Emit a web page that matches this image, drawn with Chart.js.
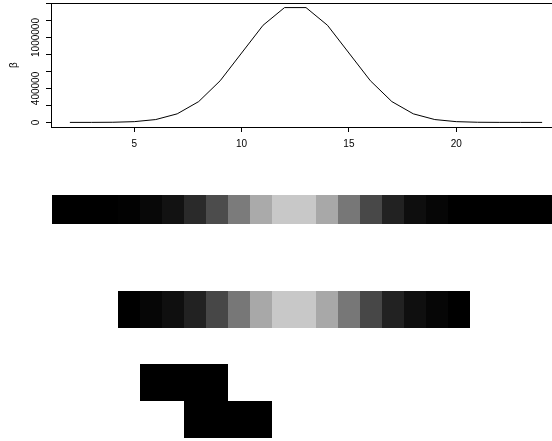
<!DOCTYPE html>
<html><head><meta charset="utf-8">
<script src="https://cdn.jsdelivr.net/npm/chart.js@4"></script>
<style>
html,body{margin:0;padding:0;background:#fff;overflow:hidden;width:552px;height:441px;position:relative;}
canvas{position:absolute;display:block;}
</style></head><body>
<canvas id="k1" width="600" height="160" style="left:0;top:0;width:600px;height:160px"></canvas>
<canvas id="k2" width="506" height="29" style="left:52px;top:195px;width:506px;height:29px"></canvas>
<canvas id="k3" width="352" height="37" style="left:118px;top:291px;width:352px;height:37px"></canvas>
<canvas id="k4" width="132" height="74" style="left:140px;top:364px;width:132px;height:74px"></canvas>
<script>
// ---- data ----
const xValues = [2,3,4,5,6,7,8,9,10,11,12,13,14,15,16,17,18,19,20,21,22,23,24];
const betaValues = [23,253,1771,8855,33649,100947,245157,490314,817190,1144066,1352078,1352078,1144066,817190,490314,245157,100947,33649,8855,1771,253,23,1];
const xTicks = [5,10,15,20];
const yTicks = [0,200000,400000,600000,800000,1000000,1200000,1400000];
const yLabelValues = [0,400000,1000000];
const yLabelTexts = ['0','400000','1000000'];
const yTitle = 'β';
const strip1Levels = [0,0,0,2,8,18,42,76,123,170,200,200,168,119,72,34,14,6,0,0,0,0,0];
const strip2Levels = [0,6,15,34,71,119,168,200,200,168,119,71,34,15,6,0];
const matrixTop = [1,1,0];
const matrixBottom = [0,1,1];

const FONT = '10px "Liberation Sans", Arial, Helvetica, sans-serif';

const decor = {
  id: 'rdecor',
  afterDraw(chart) {
    const {ctx, chartArea: a, scales: {x, y}} = chart;
    ctx.save();
    ctx.strokeStyle = '#000'; ctx.lineWidth = 1;
    ctx.strokeRect(Math.round(a.left) + 0.5, Math.round(a.top) + 0.5,
                   Math.round(a.right - a.left), Math.round(a.bottom - a.top));
    ctx.fillStyle = '#000'; ctx.font = FONT;
    ctx.textAlign = 'center'; ctx.textBaseline = 'alphabetic';
    xTicks.forEach(v => ctx.fillText(String(v), x.getPixelForValue(v), 147));
    yLabelValues.forEach((v, i) => {
      ctx.save();
      ctx.translate(39.2, y.getPixelForValue(v));
      ctx.rotate(-Math.PI / 2);
      ctx.fillText(yLabelTexts[i], 0, 0);
      ctx.restore();
    });
    ctx.save();
    ctx.translate(14, (a.top + a.bottom) / 2);
    ctx.rotate(-Math.PI / 2);
    ctx.textBaseline = 'middle';
    ctx.fillText(yTitle, 0, 0);
    ctx.restore();
    ctx.restore();
  }
};

new Chart(document.getElementById('k1'), {
  type: 'line',
  data: { datasets: [{
    data: xValues.map((v, i) => ({x: v, y: betaValues[i]})),
    borderColor: '#000', borderWidth: 1, pointRadius: 0, tension: 0, fill: false
  }]},
  options: {
    responsive: false, animation: false, devicePixelRatio: 1, events: [],
    layout: { padding: { left: 0, top: 3, right: 39, bottom: 0 } },
    plugins: { legend: { display: false }, tooltip: { enabled: false } },
    scales: {
      x: {
        type: 'linear', min: 1.12, max: 24.88,
        afterBuildTicks: s => { s.ticks = xTicks.map(v => ({value: v})); },
        afterFit: s => { s.height = 33; },
        ticks: { display: false },
        grid: { drawOnChartArea: false, drawTicks: true, tickLength: 5, color: '#000', tickColor: '#000', lineWidth: 1 },
        border: { display: true, color: '#000', width: 1 }
      },
      y: {
        type: 'linear', min: -54083, max: 1406160,
        afterBuildTicks: s => { s.ticks = yTicks.map(v => ({value: v})); },
        afterFit: s => { s.width = 51; },
        ticks: { display: false },
        grid: { drawOnChartArea: false, drawTicks: true, tickLength: 5, color: '#000', tickColor: '#000', lineWidth: 1 },
        border: { display: true, color: '#000', width: 1 }
      }
    }
  },
  plugins: [decor]
});

function grayOf(v) { return `rgb(${v},${v},${v})`; }

function strip(id, levels) {
  new Chart(document.getElementById(id), {
    type: 'bar',
    data: { labels: levels.map((_, i) => String(i)), datasets: [{
      data: levels.map(() => [0, 1]),
      backgroundColor: levels.map(grayOf),
      borderWidth: 0, barPercentage: 1, categoryPercentage: 1, inflateAmount: 0
    }]},
    options: {
      responsive: false, animation: false, devicePixelRatio: 1, events: [],
      layout: { padding: 0 },
      plugins: { legend: { display: false }, tooltip: { enabled: false } },
      scales: { x: { display: false }, y: { display: false, min: 0, max: 1 } }
    }
  });
}
strip('k2', strip1Levels);
strip('k3', strip2Levels);

new Chart(document.getElementById('k4'), {
  type: 'bar',
  data: { labels: matrixTop.map((_, i) => String(i)), datasets: [
    { data: matrixTop.map(v => v ? [1, 2] : null), backgroundColor: '#000', borderWidth: 0,
      barPercentage: 1, categoryPercentage: 1, inflateAmount: 0, grouped: false },
    { data: matrixBottom.map(v => v ? [0, 1] : null), backgroundColor: '#000', borderWidth: 0,
      barPercentage: 1, categoryPercentage: 1, inflateAmount: 0, grouped: false }
  ]},
  options: {
    responsive: false, animation: false, devicePixelRatio: 1, events: [],
    layout: { padding: 0 },
    plugins: { legend: { display: false }, tooltip: { enabled: false } },
    scales: { x: { display: false }, y: { display: false, min: 0, max: 2 } }
  }
});
</script>
</body></html>
